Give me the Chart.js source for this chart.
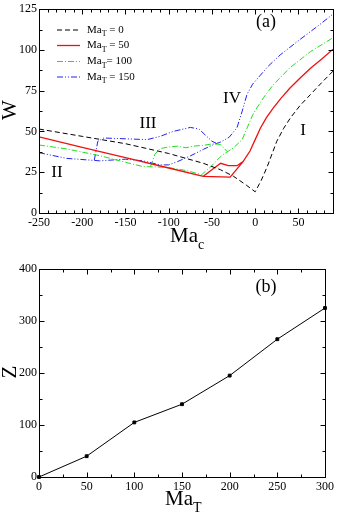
<!DOCTYPE html>
<html>
<head>
<meta charset="utf-8">
<script src="https://cdn.jsdelivr.net/npm/chart.js"></script>
<style>
  html, body { margin: 0; padding: 0; background: #fff; }
  #wrap { position: relative; width: 341px; height: 513px; }
  canvas { position: absolute; left: 0; }
</style>
</head>
<body>
<div id="wrap">
  <canvas id="chartA" width="341" height="255" style="top:0"></canvas>
  <canvas id="chartB" width="341" height="258" style="top:255px"></canvas>
</div>
<script>
// ---- panel (a): W against Ma_c, one curve per Ma_T ----
const xTicksA = [-250, -200, -150, -100, -50, 0, 50];
const yTicksA = [0, 25, 50, 75, 100, 125];
const legendText = [' = 0', ' = 50', '= 100', ' = 150'];

// Ma_T = 0
const macT0 = [-250, -200, -150, -100, -60, -40, -25, -10, 0, 7, 14, 25, 33, 41, 52, 64, 77, 90];
const wT0   = [51.5, 47, 42.5, 36.5, 30.5, 26.5, 22.5, 17, 13, 20, 28.5, 44, 52, 58.5, 66, 72.7, 80, 87];

// Ma_T = 50 (main branch + upper loop)
const macT50  = [-250, -200, -150, -100, -60, -29, -14, -6, 0, 6, 13, 21, 30, 40, 52, 64, 77, 90];
const wT50    = [46.7, 40.3, 34, 27.6, 22.5, 22, 31.5, 38, 45, 52, 58.5, 64.5, 70.5, 76.5, 82.8, 88.8, 94.5, 100.5];
const macT50b = [-60, -40, -31, -21, -14];
const wT50b   = [22.5, 30.5, 29, 29, 31.5];

// Ma_T = 100
const macT100  = [-250, -218, -180, -150, -130, -102, -79, -62, -52, -45, -38, -25, -15, -9.5, -3, 2, 10, 21, 40, 64, 90];
const wT100    = [41.7, 39.3, 35.2, 31.1, 28.5, 28, 26, 23.5, 28, 32, 35.5, 40, 45, 52, 60, 64.5, 71, 78.7, 89, 99, 107.5];
const macT100b = [-121, -116, -110, -100, -90, -80, -72, -60, -48, -40, -32];
const wT100b   = [28.5, 36, 39.5, 40.5, 41, 40, 41, 41.5, 42.5, 42, 37.5];

// Ma_T = 150
const macT150  = [-250, -218, -180, -150, -130, -110, -100, -90, -75, -60, -48, -40, -30, -21, -15, -9.5, -3, 6, 15, 29, 52, 72, 90];
const wT150    = [37, 33.5, 32, 33, 32, 29.5, 29.5, 31.5, 35, 39, 42, 43.5, 46.5, 52.4, 62.5, 72.7, 79, 84.5, 90, 97, 106.5, 114.5, 122];
const macT150b = [-186, -182, -175, -150, -125, -110, -95, -75, -65, -58, -50, -45];
const wT150b   = [32.5, 44, 46, 45.5, 45, 47, 50, 52.5, 51.5, 48, 44, 42.8];

// ---- panel (b): Z against Ma_T ----
const xTicksB = [0, 50, 100, 150, 200, 250, 300];
const yTicksB = [0, 100, 200, 300, 400];
const maT = [0, 50, 100, 150, 200, 250, 300];
const zVals = [0, 40, 105, 140, 195, 265, 325];

const SERIF = "'Liberation Serif', 'DejaVu Serif', serif";
Chart.defaults.font.family = SERIF;
Chart.defaults.font.size = 12;
Chart.defaults.color = '#000';

// join branches, a null point breaks the line between them
function branches(...parts) {
  const out = [];
  parts.forEach(([xs, ys], k) => {
    if (k) out.push({ x: null, y: null });
    xs.forEach((v, i) => out.push({ x: v, y: ys[i] }));
  });
  return out;
}

// frame, inward ticks, titles and labels
const framePlugin = {
  id: 'frame',
  afterDraw(chart, args, o) {
    const { ctx, chartArea: a, scales: { x, y } } = chart;
    ctx.save();
    ctx.strokeStyle = '#000';
    ctx.lineWidth = 1;
    const L = Math.round(a.left) + 0.5, R = Math.round(a.right) + 0.5;
    const T = Math.round(a.top) + 0.5, B = Math.round(a.bottom) + 0.5;
    ctx.strokeRect(L, T, R - L, B - T);
    ctx.beginPath();
    for (let v = x.min; v <= x.max + 1e-6; v += o.xMinor) {
      const major = Math.abs(v / o.xMajor - Math.round(v / o.xMajor)) < 1e-6;
      const len = major ? 5 : 3;
      const px = Math.round(x.getPixelForValue(v)) + 0.5;
      ctx.moveTo(px, B); ctx.lineTo(px, B - len);
      ctx.moveTo(px, T); ctx.lineTo(px, T + len);
    }
    for (let v = y.min; v <= y.max + 1e-6; v += o.yMinor) {
      const major = Math.abs(v / o.yMajor - Math.round(v / o.yMajor)) < 1e-6;
      const len = major ? 5 : 3;
      const py = Math.round(y.getPixelForValue(v)) + 0.5;
      ctx.moveTo(L, py); ctx.lineTo(L + len, py);
      ctx.moveTo(R, py); ctx.lineTo(R - len, py);
    }
    ctx.stroke();

    ctx.fillStyle = '#000';
    ctx.textBaseline = 'alphabetic';
    // x title with subscript
    ctx.textAlign = 'left';
    ctx.font = '21px ' + SERIF;
    ctx.fillText(o.xTitle[0], o.xTitle[2], o.xTitle[3]);
    const w = ctx.measureText(o.xTitle[0]).width;
    ctx.font = '14px ' + SERIF;
    ctx.fillText(o.xTitle[1], o.xTitle[2] + w, o.xTitle[3] + 7);
    // y title, rotated
    ctx.save();
    ctx.translate(o.yTitle[1], o.yTitle[2]);
    ctx.rotate(-Math.PI / 2);
    ctx.textAlign = 'center';
    ctx.textBaseline = 'middle';
    ctx.font = '21px ' + SERIF;
    ctx.fillText(o.yTitle[0], 0, 0);
    ctx.restore();
    // notes
    ctx.textAlign = 'center';
    o.notes.forEach(([t, nx, ny, size]) => {
      ctx.font = size + 'px ' + SERIF;
      ctx.fillText(t, nx, ny);
    });
    ctx.restore();
  }
};

// legend for panel (a), Ma with subscript T
const legendPlugin = {
  id: 'maLegend',
  afterDraw(chart, args, o) {
    if (!o.rows) return;
    const ctx = chart.ctx;
    ctx.save();
    chart.data.datasets.forEach((ds, i) => {
      const ry = o.rows[i];
      ctx.strokeStyle = ds.borderColor;
      ctx.lineWidth = ds.borderWidth;
      ctx.setLineDash(ds.borderDash || []);
      ctx.beginPath();
      ctx.moveTo(57, ry); ctx.lineTo(80, ry);
      ctx.stroke();
      ctx.setLineDash([]);
      ctx.fillStyle = '#000';
      ctx.textBaseline = 'middle';
      ctx.textAlign = 'left';
      ctx.font = '11px ' + SERIF;
      ctx.fillText('Ma', 87, ry);
      const w = ctx.measureText('Ma').width;
      ctx.font = '8px ' + SERIF;
      ctx.fillText('T', 87 + w, ry + 4);
      const w2 = ctx.measureText('T').width;
      ctx.font = '11px ' + SERIF;
      ctx.fillText(legendText[i], 87 + w + w2, ry);
    });
    ctx.restore();
  }
};

function lineSet(data, color, dash, width) {
  return {
    data, borderColor: color, borderWidth: width, borderDash: dash,
    showLine: true, pointRadius: 0, spanGaps: false, fill: false
  };
}

function axes(xMin, xMax, xTicks, yMin, yMax, yTicks, yWidth, xHeight) {
  return {
    x: {
      type: 'linear', min: xMin, max: xMax,
      afterBuildTicks: s => { s.ticks = xTicks.map(v => ({ value: v })); },
      afterFit: s => { s.height = xHeight; },
      ticks: { padding: 3, maxRotation: 0, autoSkip: false },
      grid: { display: false, drawTicks: false },
      border: { display: false }
    },
    y: {
      type: 'linear', min: yMin, max: yMax,
      afterBuildTicks: s => { s.ticks = yTicks.map(v => ({ value: v })); },
      afterFit: s => { s.width = yWidth; },
      ticks: { padding: 2, autoSkip: false },
      grid: { display: false, drawTicks: false },
      border: { display: false }
    }
  };
}

new Chart(document.getElementById('chartA'), {
  type: 'scatter',
  data: {
    datasets: [
      lineSet(branches([macT0, wT0]), '#000000', [5, 3], 1),
      lineSet(branches([macT50, wT50], [macT50b, wT50b]), '#ee1111', [], 1.3),
      lineSet(branches([macT100, wT100], [macT100b, wT100b]), '#22dd22', [6, 2, 1, 2], 1),
      lineSet(branches([macT150, wT150], [macT150b, wT150b]), '#2222ee', [6, 2, 1, 2, 1, 2], 1)
    ]
  },
  options: {
    responsive: false, animation: false, devicePixelRatio: 1, events: [],
    layout: { padding: { top: 7, right: 8, left: 0, bottom: 0 } },
    scales: axes(-250, 90, xTicksA, 0, 125, yTicksA, 39, 42),
    plugins: {
      legend: { display: false }, tooltip: { enabled: false },
      frame: {
        xMinor: 10, xMajor: 50, yMinor: 12.5, yMajor: 25,
        xTitle: ['Ma', 'c', 170, 242], yTitle: ['W', 10, 110],
        notes: [['(a)', 266, 27, 18], ['III', 148, 128, 17], ['IV', 232, 103, 17],
                ['I', 303, 135, 17], ['II', 57, 177, 17]]
      },
      maLegend: { rows: [30, 45.5, 61.5, 77] }
    }
  },
  plugins: [framePlugin, legendPlugin]
});

new Chart(document.getElementById('chartB'), {
  type: 'scatter',
  data: {
    datasets: [{
      data: maT.map((v, i) => ({ x: v, y: zVals[i] })),
      borderColor: '#000', backgroundColor: '#000', borderWidth: 1,
      showLine: true, pointStyle: 'rect', pointRadius: 2, clip: 4
    }]
  },
  options: {
    responsive: false, animation: false, devicePixelRatio: 1, events: [],
    layout: { padding: { top: 14, right: 16, left: 0, bottom: 0 } },
    scales: axes(0, 300, xTicksB, 0, 400, yTicksB, 39, 36),
    plugins: {
      legend: { display: false }, tooltip: { enabled: false },
      frame: {
        xMinor: 25, xMajor: 50, yMinor: 50, yMajor: 100,
        xTitle: ['Ma', 'T', 165, 250], yTitle: ['Z', 10, 117],
        notes: [['(b)', 266, 37, 18]]
      }
    }
  },
  plugins: [framePlugin]
});
</script>
</body>
</html>
